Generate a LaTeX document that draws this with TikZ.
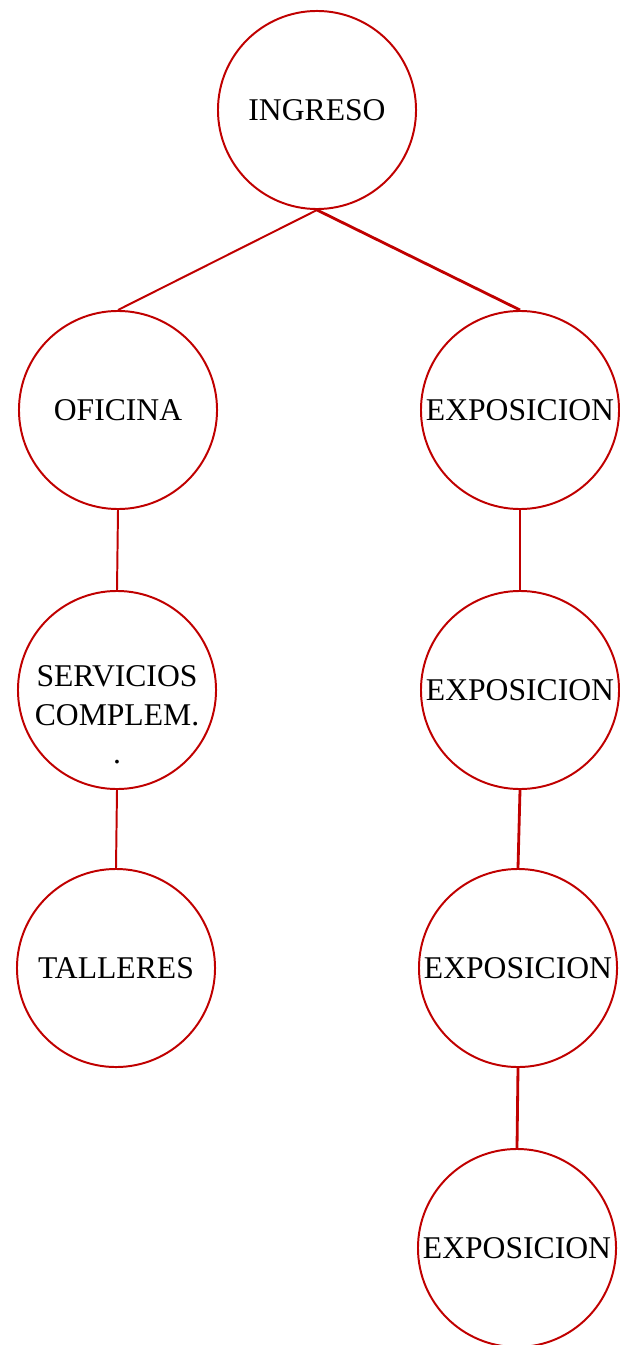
\documentclass[tikz,border=0pt]{standalone}
\usepackage{fontspec}
\setmainfont{Liberation Serif}
\usepackage{tikz}
\definecolor{rojo}{RGB}{192,0,0}

\begin{document}
\begin{tikzpicture}[x=0.025cm, y=-0.025cm,
		bubble/.style={circle, draw=rojo, line width=1.4pt, inner sep=0pt, minimum size=4.95cm, font=\fontsize{22.5}{27}\selectfont, align=center},
		rama/.style={draw=rojo, line width=1.4pt},
		ramab/.style={draw=rojo, line width=2pt}]
				\useasboundingbox (0, 0) rectangle (619, 1345);
				
				\node[bubble] (ingreso) at (317, 110) {INGRESO};
				
				%izquierda
				\node[bubble] (oficina) at (118, 410) {OFICINA};
				\node[bubble, label={[font=\fontsize{22.5}{27.5}\selectfont, align=center, yshift=-0.62cm]center:SERVICIOS\\COMPLEM.\\.}] (servicios) at (117, 690) {};
				\node[bubble] (talleres) at (116, 968) {TALLERES};
				
				%derecha
				\node[bubble] (expoA) at (520, 410) {EXPOSICION};
				\node[bubble] (expoB) at (520, 690) {EXPOSICION};
				\node[bubble] (expoC) at (518, 968) {EXPOSICION};
				\node[bubble] (expoD) at (517, 1248) {EXPOSICION};
				
				\draw [rama] (ingreso.south) -- (oficina.north);
				\draw [ramab] (ingreso.south) -- (expoA.north);
				\draw [rama] (oficina.south) -- (servicios.north);
				\draw [rama] (servicios.south) -- (talleres.north);
				\draw [ramab] (expoA.south) -- (expoB.north);
				\draw [ramab] (expoB.south) -- (expoC.north);
				\draw [ramab] (expoC.south) -- (expoD.north);
			\end{tikzpicture}
\end{document}
